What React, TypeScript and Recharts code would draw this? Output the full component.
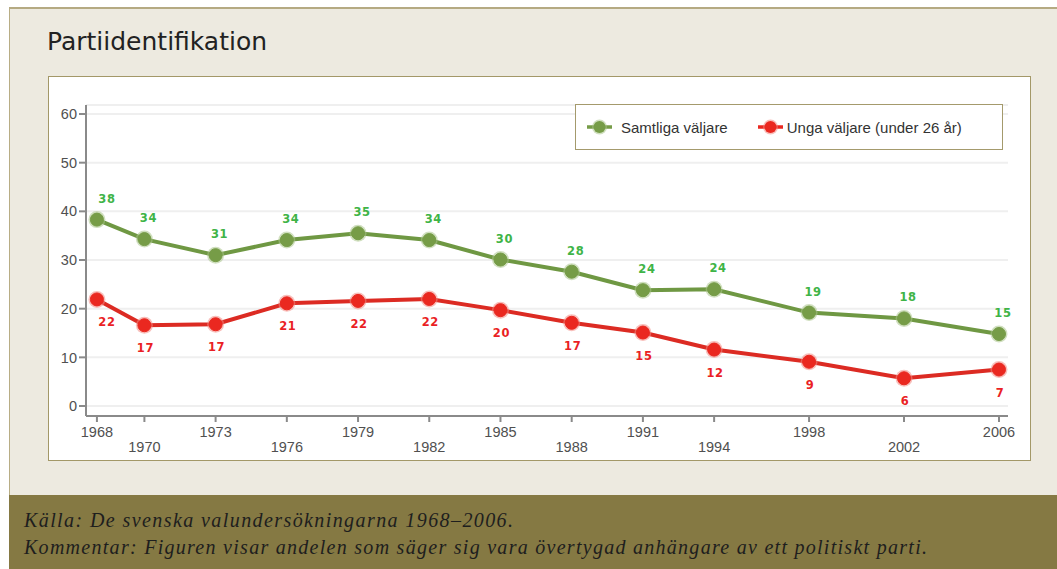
import { CartesianGrid, LabelList, Legend, Line, LineChart, XAxis, YAxis } from "recharts";

const years = [1968, 1970, 1973, 1976, 1979, 1982, 1985, 1988, 1991, 1994, 1998, 2002, 2006];
const samtliga = [38.3, 34.3, 31.0, 34.1, 35.5, 34.1, 30.1, 27.6, 23.8, 24.0, 19.2, 18.0, 14.8];
const unga = [21.9, 16.6, 16.8, 21.1, 21.6, 22.0, 19.7, 17.1, 15.1, 11.6, 9.1, 5.7, 7.5];
const samtligaLabels = [38, 34, 31, 34, 35, 34, 30, 28, 24, 24, 19, 18, 15];
const ungaLabels = [22, 17, 17, 21, 22, 22, 20, 17, 15, 12, 9, 6, 7];
const yTicks = [0, 10, 20, 30, 40, 50, 60];

const series = [
  { key: "samtliga", name: "Samtliga väljare", line: "#6f9843", dot: "#769c47", halo: "#a9c48a", label: "#3fb447" },
  { key: "unga", name: "Unga väljare (under 26 år)", line: "#dc2b23", dot: "#ea2820", halo: "#f38a84", label: "#ea1f25" },
];

const data = years.map((year, i) => ({
  year,
  samtliga: samtliga[i],
  unga: unga[i],
  samtligaLabel: samtligaLabels[i],
  ungaLabel: ungaLabels[i],
}));

function makeDot(dotColor: string, haloColor: string) {
  return (p: any) => (
    <g key={`dot-${p.index}`}>
      <circle cx={p.cx} cy={p.cy} r={8.5} fill={haloColor} opacity={0.55} />
      <circle cx={p.cx} cy={p.cy} r={6.5} fill={dotColor} stroke={dotColor} strokeWidth={1} />
    </g>
  );
}

function makeLabel(color: string, above: boolean) {
  return (p: any) => {
    const x = p.x ?? p.viewBox?.x;
    const y = p.y ?? p.viewBox?.y;
    const dx = p.index === 0 ? 10 : above ? 4 : 1;
    return (
      <text
        x={x + dx}
        y={above ? y - 21 : y + 23}
        textAnchor="middle"
        dominantBaseline="central"
        fill={color}
        fontFamily="DejaVu Sans, Verdana, sans-serif"
        fontWeight="bold"
        fontSize={11.5}
        letterSpacing={0.6}
      >
        {p.value}
      </text>
    );
  };
}

function YearTick(props: any) {
  const { x, y, payload, index } = props;
  const row = index % 2 === 0 ? 14 : 29;
  return (
    <text x={x} y={y - 6 + row} textAnchor="middle" dominantBaseline="central" fill="#505050" fontSize={14.5} fontFamily="Liberation Sans, Arial, sans-serif">
      {payload.value}
    </text>
  );
}

function LegendIcon({ color, halo }: { color: string; halo: string }) {
  return (
    <svg width={25} height={16} style={{ display: "block" }}>
      <line x1={0} y1={8} x2={25} y2={8} stroke={color} strokeWidth={3.5} />
      <circle cx={12.5} cy={8} r={7.5} fill={halo} opacity={0.55} />
      <circle cx={12.5} cy={8} r={6} fill={color} />
    </svg>
  );
}

function LegendBox() {
  return (
    <div
      style={{
        boxSizing: "border-box",
        width: 428,
        height: 46,
        border: "1px solid #a49a6c",
        background: "#fff",
        display: "flex",
        alignItems: "center",
        paddingLeft: 11,
        fontFamily: "Liberation Sans, Arial, sans-serif",
        fontSize: 15,
        color: "#333",
      }}
    >
      <LegendIcon color={series[0].dot} halo={series[0].halo} />
      <span style={{ marginLeft: 9 }}>{series[0].name}</span>
      <span style={{ marginLeft: 30, display: "block" }}>
        <LegendIcon color={series[1].dot} halo={series[1].halo} />
      </span>
      <span style={{ marginLeft: 4 }}>{series[1].name}</span>
    </div>
  );
}

export default function App() {
  return (
    <div style={{ position: "absolute", left: 0, top: 0, width: 1057, height: 569, background: "#fff", overflow: "hidden" }}>
      <div
        style={{
          position: "absolute",
          left: 9,
          top: 7,
          width: 1048,
          height: 488,
          boxSizing: "border-box",
          background: "#edeae0",
          borderTop: "2px solid #b5aa82",
          borderLeft: "1px solid #b8ad85",
        }}
      />
      <div
        style={{
          position: "absolute",
          left: 47,
          top: 25,
          fontFamily: "DejaVu Sans, Verdana, sans-serif",
          fontSize: 25,
          lineHeight: "34px",
          color: "#222",
        }}
      >
        Partiidentifikation
      </div>
      <div
        style={{
          position: "absolute",
          left: 48,
          top: 76,
          width: 983,
          height: 385,
          boxSizing: "border-box",
          border: "1px solid #a39868",
          background: "#fff",
        }}
      >
        <LineChart width={981} height={383} data={data} margin={{ top: 28, right: 22, left: 0, bottom: 0 }}>
          <CartesianGrid horizontal vertical={false} stroke="#efefef" strokeWidth={2} />
          <XAxis
            dataKey="year"
            type="number"
            domain={[1967.54, 2006.38]}
            allowDataOverflow
            ticks={years}
            interval={0}
            height={44}
            stroke="#8a8a8a"
            strokeWidth={2}
            tickSize={6}
            tick={<YearTick />}
          />
          <YAxis
            type="number"
            domain={[-2.05, 61.85]}
            allowDataOverflow
            ticks={yTicks}
            width={37}
            stroke="#8a8a8a"
            strokeWidth={2}
            tickSize={7}
            tickMargin={2}
            tick={{ fill: "#505050", fontSize: 14.5, fontFamily: "Liberation Sans, Arial, sans-serif" }}
          />
          <Legend
            layout="horizontal"
            verticalAlign="middle"
            align="center"
            wrapperStyle={{ position: "absolute", left: 526, top: 27, width: 428, height: 46 }}
            content={() => <LegendBox />}
          />
          {series.map((s) => (
            <Line
              key={s.key}
              dataKey={s.key}
              name={s.name}
              type="linear"
              stroke={s.line}
              strokeWidth={4}
              dot={makeDot(s.dot, s.halo)}
              activeDot={false}
              isAnimationActive={false}
            >
              <LabelList dataKey={`${s.key}Label`} content={makeLabel(s.label, s.key === "samtliga")} />
            </Line>
          ))}
        </LineChart>
      </div>
      <div style={{ position: "absolute", left: 9, top: 495, width: 1048, height: 74, background: "#857943" }} />
      <svg style={{ position: "absolute", left: 0, top: 495 }} width={1057} height={74}>
        <text
          x={24}
          y={32}
          textLength={489}
          lengthAdjust="spacing"
          fontFamily="Liberation Serif, Times New Roman, serif"
          fontStyle="italic"
          fontSize={20}
          fill="#1e1e1e"
        >
          Källa: De svenska valundersökningarna 1968–2006.
        </text>
        <text
          x={24}
          y={59}
          textLength={903}
          lengthAdjust="spacing"
          fontFamily="Liberation Serif, Times New Roman, serif"
          fontStyle="italic"
          fontSize={20}
          fill="#1e1e1e"
        >
          Kommentar: Figuren visar andelen som säger sig vara övertygad anhängare av ett politiskt parti.
        </text>
      </svg>
    </div>
  );
}
